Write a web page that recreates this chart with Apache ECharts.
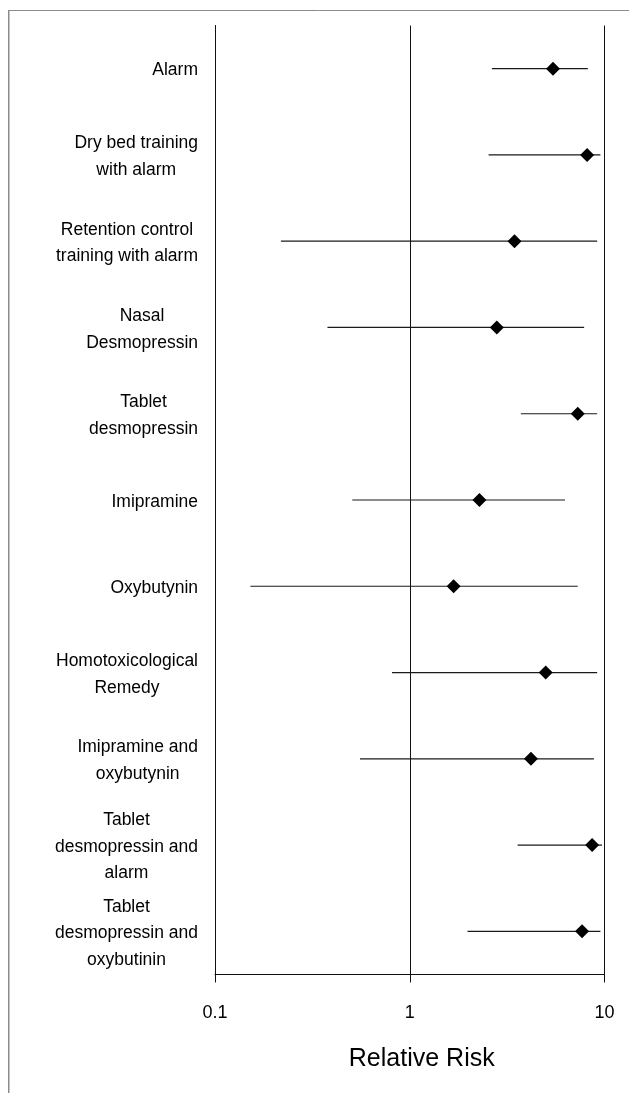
<!DOCTYPE html>
<html><head><meta charset="utf-8">
<script src="https://cdn.jsdelivr.net/npm/echarts@6/dist/echarts.min.js"></script>
<style>html,body{margin:0;padding:0;background:#fff}#c{width:629px;height:1093px}</style>
</head><body><div id="c"></div>
<script>
const categories = [
  "Alarm",
  "Dry bed training\nwith alarm",
  "Retention control\ntraining with alarm",
  "Nasal\nDesmopressin",
  "Tablet\ndesmopressin",
  "Imipramine",
  "Oxybutynin",
  "Homotoxicological\nRemedy",
  "Imipramine and\noxybutynin",
  "Tablet\ndesmopressin and\nalarm",
  "Tablet\ndesmopressin and\noxybutinin"
];
const relativeRisk = [5.44, 8.14, 3.45, 2.80, 7.29, 2.28, 1.68, 4.99, 4.19, 8.64, 7.67];
const lowerCI = [2.64, 2.54, 0.218, 0.378, 3.72, 0.507, 0.152, 0.811, 0.555, 3.58, 1.98];
const upperCI = [8.21, 9.53, 9.17, 7.86, 9.17, 6.27, 7.29, 9.17, 8.82, 9.70, 9.53];
const xTickLabels = ["0.1", "1", "10"];
const axisTitle = "Relative Risk";

const FONT = "'Liberation Sans', Arial, sans-serif";
const chart = echarts.init(document.getElementById('c'), null, {renderer: 'canvas'});
chart.setOption({
  animation: false,
  backgroundColor: '#fff',
  grid: {left: 215, right: 24.5, top: 25.5, bottom: 118.5, containLabel: false},
  xAxis: {
    type: 'log', logBase: 10, min: 0.1, max: 10,
    axisLine: {show: true, lineStyle: {color: '#111', width: 1}},
    axisTick: {show: true, length: 8, lineStyle: {color: '#111'}},
    splitLine: {show: true, lineStyle: {color: '#111', width: 1}},
    minorTick: {show: false},
    axisLabel: {
      fontFamily: FONT, fontSize: 18, color: '#000', margin: 30,
      formatter: v => {
        const e = Math.round(Math.log10(v));
        return xTickLabels[e + 1] !== undefined ? xTickLabels[e + 1] : '';
      }
    },
    name: axisTitle, nameLocation: 'middle', nameGap: 72,
    nameTextStyle: {fontFamily: FONT, fontSize: 25, color: '#000', padding: [0, 0, 0, 24]}
  },
  yAxis: {
    type: 'category', data: categories, inverse: true,
    axisLine: {show: true, lineStyle: {color: '#111', width: 1}},
    axisTick: {show: false},
    splitLine: {show: false},
    axisLabel: {
      margin: 17, align: 'right', color: '#000',
      fontFamily: FONT, fontSize: 17.5, lineHeight: 26.5,
      padding: [4, 0, 0, 0],
      formatter: v => v.split('\n').map(s => '{c|' + s + '}').join('\n'),
      rich: {c: {align: 'center', fontFamily: FONT, fontSize: 17.5, lineHeight: 26.5, color: '#000'}}
    }
  },
  series: [
    {
      type: 'custom',
      data: lowerCI.map((lo, i) => [lo, upperCI[i], i]),
      encode: {x: [0, 1], y: 2},
      renderItem: (params, api) => {
        const p1 = api.coord([api.value(0), api.value(2)]);
        const p2 = api.coord([api.value(1), api.value(2)]);
        return {
          type: 'line',
          shape: {x1: p1[0], y1: p1[1], x2: p2[0], y2: p2[1]},
          style: {stroke: '#1a1a1a', lineWidth: 1.2}
        };
      },
      z: 2
    },
    {
      type: 'scatter',
      data: relativeRisk.map((v, i) => [v, i]),
      symbol: 'diamond', symbolSize: 14,
      itemStyle: {color: '#000', opacity: 1},
      z: 3
    }
  ],
  graphic: [
    {type: 'line', shape: {x1: 8, y1: 10.5, x2: 629, y2: 10.5}, style: {stroke: '#8c8c8c', lineWidth: 1}, silent: true},
    {type: 'line', shape: {x1: 8.75, y1: 10, x2: 8.75, y2: 1093}, style: {stroke: '#8c8c8c', lineWidth: 1.5}, silent: true}
  ]
});
</script></body></html>
